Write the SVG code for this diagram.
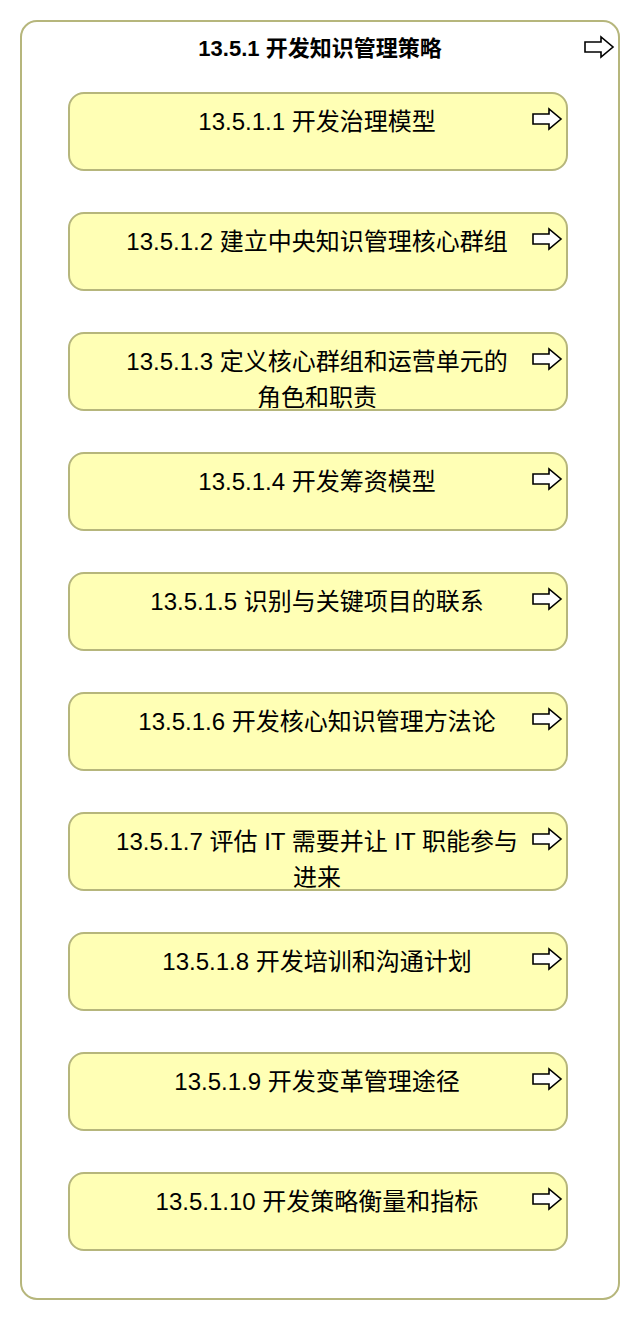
<svg xmlns="http://www.w3.org/2000/svg" width="640" height="1320" viewBox="0 0 640 1320">
<style>
.outer{fill:#ffffff;stroke:#b6b67c;stroke-width:2}
.box{fill:#ffffb5;stroke:#b6b67c;stroke-width:2}
.t{font-family:"Liberation Sans","Noto Sans CJK SC",sans-serif;font-size:24px;fill:#000;text-anchor:middle}
.title{font-weight:bold;font-size:22px}
.arr{fill:#fff;stroke:#000;stroke-width:1.6;stroke-linejoin:miter}
</style>
<defs>
<path id="arrow" d="M0,-5 H16 V-10 L28,0 L16,10 V5 H0 Z"/>
<clipPath id="c3"><rect x="70" y="334" width="496" height="74" rx="13"/></clipPath>
<clipPath id="c7"><rect x="70" y="814" width="496" height="74" rx="13"/></clipPath>
</defs>
<g id="connectors"></g>
<g id="n0">
<rect class="outer" x="21" y="21" width="598" height="1278" rx="16"/>
<text class="t title" x="320" y="56">13.5.1 开发知识管理策略</text>
<use href="#arrow" class="arr" x="585" y="47"/>
</g>
<g id="n1"><rect class="box" x="69" y="93" width="498" height="77" rx="15"/><text class="t" x="317" y="130">13.5.1.1 开发治理模型</text><use href="#arrow" class="arr" x="533" y="119"/></g>
<g id="n2"><rect class="box" x="69" y="213" width="498" height="77" rx="15"/><text class="t" x="317" y="250">13.5.1.2 建立中央知识管理核心群组</text><use href="#arrow" class="arr" x="533" y="239"/></g>
<g id="n3"><rect class="box" x="69" y="333" width="498" height="77" rx="15"/><g clip-path="url(#c3)"><text class="t" x="317" y="370">13.5.1.3 定义核心群组和运营单元的</text><text class="t" x="317" y="406">角色和职责</text></g><use href="#arrow" class="arr" x="533" y="359"/></g>
<g id="n4"><rect class="box" x="69" y="453" width="498" height="77" rx="15"/><text class="t" x="317" y="490">13.5.1.4 开发筹资模型</text><use href="#arrow" class="arr" x="533" y="479"/></g>
<g id="n5"><rect class="box" x="69" y="573" width="498" height="77" rx="15"/><text class="t" x="317" y="610">13.5.1.5 识别与关键项目的联系</text><use href="#arrow" class="arr" x="533" y="599"/></g>
<g id="n6"><rect class="box" x="69" y="693" width="498" height="77" rx="15"/><text class="t" x="317" y="730">13.5.1.6 开发核心知识管理方法论</text><use href="#arrow" class="arr" x="533" y="719"/></g>
<g id="n7"><rect class="box" x="69" y="813" width="498" height="77" rx="15"/><g clip-path="url(#c7)"><text class="t" x="317" y="850">13.5.1.7 评估 IT 需要并让 IT 职能参与</text><text class="t" x="317" y="886">进来</text></g><use href="#arrow" class="arr" x="533" y="839"/></g>
<g id="n8"><rect class="box" x="69" y="933" width="498" height="77" rx="15"/><text class="t" x="317" y="970">13.5.1.8 开发培训和沟通计划</text><use href="#arrow" class="arr" x="533" y="959"/></g>
<g id="n9"><rect class="box" x="69" y="1053" width="498" height="77" rx="15"/><text class="t" x="317" y="1090">13.5.1.9 开发变革管理途径</text><use href="#arrow" class="arr" x="533" y="1079"/></g>
<g id="n10"><rect class="box" x="69" y="1173" width="498" height="77" rx="15"/><text class="t" x="317" y="1210">13.5.1.10 开发策略衡量和指标</text><use href="#arrow" class="arr" x="533" y="1199"/></g>
</svg>
